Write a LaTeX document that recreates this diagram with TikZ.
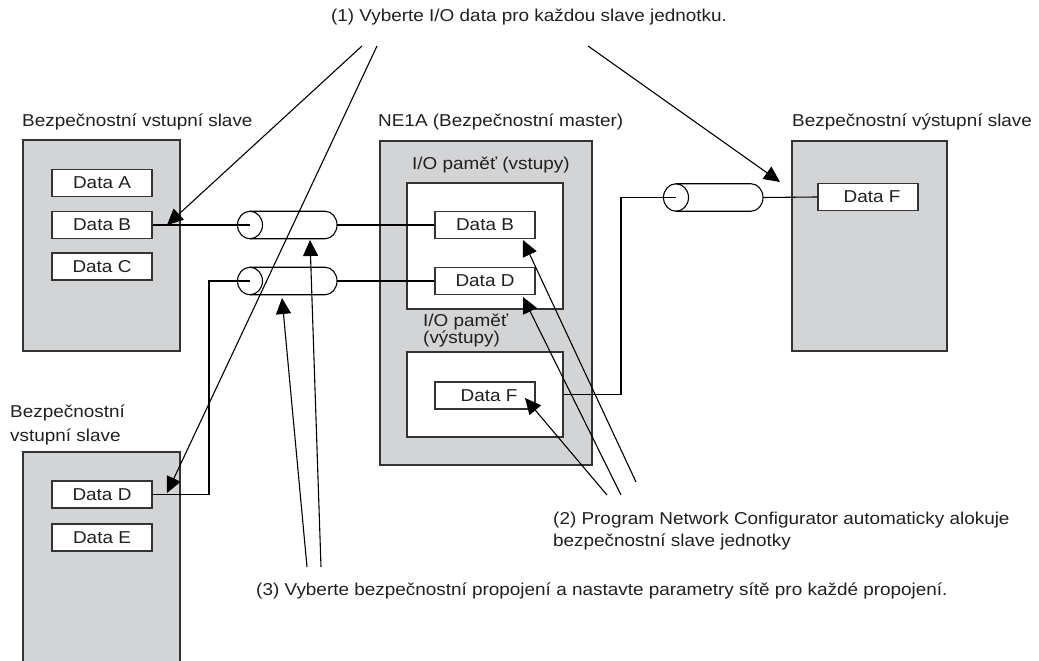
\documentclass[tikz,border=0pt]{standalone}
\usepackage{fontspec}
\setmainfont{Liberation Sans}[FakeStretch=1.1]
\usetikzlibrary{arrows.meta}
\definecolor{boxgray}{HTML}{D3D4D6}
\definecolor{edge}{HTML}{333333}
\definecolor{ink}{HTML}{231F20}
\begin{document}
\begin{tikzpicture}[x=1pt,y=-1pt,
  font=\fontsize{17.2}{20}\selectfont,
  graybox/.style={draw=edge, line width=1.8pt, fill=boxgray, inner sep=0pt},
  whitebox/.style={draw=edge, line width=1.5pt, fill=white, inner sep=0pt},
  databox/.style={draw=edge, line width=1.5pt, fill=white, inner sep=0pt,
    minimum width=100pt, minimum height=27pt, text=ink},
  databoxF/.style={databox, text width=100pt, align=center},
  lbl/.style={text=ink, inner sep=0pt, anchor=west, align=left},
  wire/.style={draw=black, line width=1.1pt},
  callout/.style={wire, -{Triangle[length=16pt,width=15pt]}},
  pics/pipe/.style={code={
    \draw[wire] (0,0) ellipse [x radius=12.5, y radius=13.75];
    \draw[wire] (0,-13.75) -- (75,-13.75)
      arc [start angle=-90, end angle=90, x radius=12, y radius=13.75] -- (0,13.75);
  }}
]
\clip (0,0) rectangle (1039,661);

% upper input slave
\node[graybox, minimum width=157pt, minimum height=211pt] (s1) at (101.5,245.5) {};
\node[lbl] (s1lab) at (22,122) {Bezpečnostní vstupní slave};
\node[databox] (s1a) at (102,183) {Data A};
\node[databox] (s1b) at (102,225) {Data B};
\node[databox] (s1c) at (102,266.5) {Data C};

% lower input slave
\node[graybox, minimum width=157pt, minimum height=212pt] (s2) at (101.5,558) {};
\node[lbl, font=\fontsize{17.2}{24}\selectfont] (s2lab) at (10,425) {Bezpečnostní\\vstupní slave};
\node[databox] (s2d) at (102,494.5) {Data D};
\node[databox] (s2e) at (102,537.5) {Data E};

% master
\node[graybox, minimum width=212pt, minimum height=324pt] (m) at (486,303) {};
\node[lbl] (mlab) at (378,122) {NE1A (Bezpečnostní master)};
\node[lbl] (inlab) at (412,165) {I/O paměť (vstupy)};
\node[whitebox, minimum width=156pt, minimum height=126pt] (ib1) at (485,246) {};
\node[databox] (mb) at (485,225) {Data B};
\node[databox] (md) at (485,281) {Data D};
\node[lbl, font=\fontsize{17.2}{17}\selectfont] (outlab) at (423,330.5) {I/O paměť\\(výstupy)};
\node[whitebox, minimum width=156pt, minimum height=85pt] (ib2) at (485,394.5) {};
\node[databox] (mf) at (485,395.5) {\hspace*{8pt}Data F};

% output slave
\node[graybox, minimum width=155pt, minimum height=210pt] (s3) at (869.5,246) {};
\node[lbl] (s3lab) at (792,122) {Bezpečnostní výstupní slave};
\node[databox] (s3f) at (868,197) {\hspace*{8pt}Data F};

% texts
\node[text=ink, inner sep=0pt] (t1) at (529,17) {(1) Vyberte I/O data pro každou slave jednotku.};
\node[lbl, font=\fontsize{17.2}{22}\selectfont] (t2) at (553,531) {(2) Program Network Configurator automaticky alokuje\\bezpečnostní slave jednotky};
\node[lbl] (t3) at (256,591) {(3) Vyberte bezpečnostní propojení a nastavte parametry sítě pro každé propojení.};

% pipes
\coordinate (c1L) at (250,225); \coordinate (c1R) at (337,225);
\coordinate (c2L) at (250,281); \coordinate (c2R) at (337,281);
\coordinate (c3L) at (676,197.5); \coordinate (c3R) at (763,197.5);
\pic at (c1L) {pipe};
\pic at (c2L) {pipe};
\pic at (c3L) {pipe};

% wires
\coordinate (j2) at (209,281);
\coordinate (j3) at (621,197.5);
\draw[wire] (s1b.east) -- (c1L);
\draw[wire] (c1R) -- (mb.west);
\draw[wire] (c2R) -- (md.west);
\draw[wire] (c2L) -- (j2) |- (s2d.east);
\draw[wire] (ib2.east) -| (j3) -- (c3L);
\draw[wire] (c3R) -- (s3f.west);

% callouts (1)
\coordinate (a1s) at (362,46); \coordinate (a1e) at (167,225);
\coordinate (a2s) at (377,46); \coordinate (a2e) at (167,493);
\coordinate (a3s) at (588,46); \coordinate (a3e) at (780,182);
\draw[callout] (a1s) -- (a1e);
\draw[callout] (a2s) -- (a2e);
\draw[callout] (a3s) -- (a3e);

% callouts (2)
\coordinate (b1s) at (636,482); \coordinate (b1e) at (523,240);
\coordinate (b2s) at (621,495); \coordinate (b2e) at (523,297);
\coordinate (b3s) at (607,495); \coordinate (b3e) at (525,398);
\draw[callout] (b1s) -- (b1e);
\draw[callout] (b2s) -- (b2e);
\draw[callout] (b3s) -- (b3e);

% callouts (3)
\coordinate (d1s) at (321,567); \coordinate (d1e) at (310,240);
\coordinate (d2s) at (307,567); \coordinate (d2e) at (282,298);
\draw[callout] (d1s) -- (d1e);
\draw[callout] (d2s) -- (d2e);
\end{tikzpicture}
\end{document}
